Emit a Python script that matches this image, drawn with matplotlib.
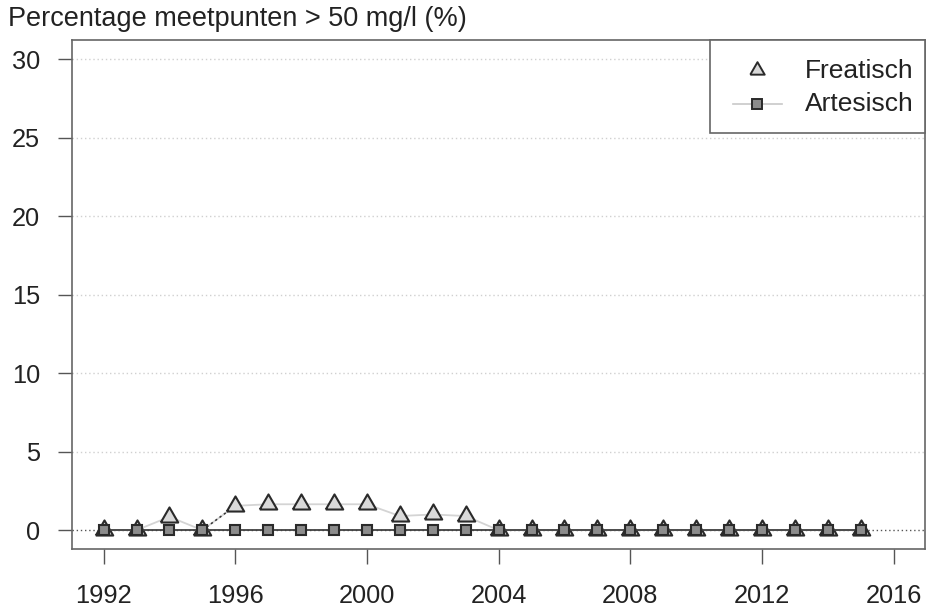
# coding: utf-8

import matplotlib
matplotlib.use('Agg')
import matplotlib.pyplot as plt
from matplotlib.patches import Rectangle
from matplotlib.lines import Line2D
import numpy as np

plt.rcParams['font.family'] = ['Liberation Sans', 'DejaVu Sans']

# ---- data
years = list(range(1992, 2016))
freatisch = [0, 0, 0.85, 0, 1.55, 1.65, 1.65, 1.65, 1.65, 0.9, 1.0, 0.9,
             0, 0, 0, 0, 0, 0, 0, 0, 0, 0, 0, 0]
artesisch = [0] * 24
x_ticks = [1992, 1996, 2000, 2004, 2008, 2012, 2016]
y_ticks = [0, 5, 10, 15, 20, 25, 30]

ylabel = "Percentage meetpunten > 50 mg/l (%)"
labels = ['Freatisch', 'Artesisch']

# equilateral triangle, centred on its centroid (like R pch 24)
TRI = [(-1, -0.577), (1, -0.577), (0, 1.155), (-1, -0.577)]


def main():
    fig = plt.figure(figsize=(9.27, 6.09), dpi=100)
    ax = fig.add_axes([0.0777, 0.0985, 0.9203, 0.8355])

    x = np.array(years)
    yf = np.array(freatisch)
    ya = np.array(artesisch)

    # grid
    for t in y_ticks[1:]:
        ax.axhline(t, color='#d0d0d0', lw=1, ls=(0, (1, 2)), zorder=0)
    ax.axhline(0, color='#555555', lw=1, ls=(0, (1, 2)), zorder=1)

    # freatisch line (light) and the dotted jump 1995 -> 1996
    ax.plot(x, yf, color='#d4d4d4', lw=1.3, zorder=2)
    i = years.index(1995)
    ax.plot(x[i:i + 2], yf[i:i + 2], color='#333333', lw=1.1, ls=(0, (1.5, 2)), zorder=2)

    # markers: triangles below, squares on top
    ax.plot(x, yf, ls='none', marker=TRI, ms=14.5,
            mfc='#d9d9d9', mec='#2a2a2a', mew=1.5, zorder=3)
    ax.plot(x, ya, color='#404040', lw=1.3, marker='s', ms=7.5,
            mfc='#8c8c8c', mec='#2a2a2a', mew=1.5, zorder=4)

    ax.set_xlim(1991.04, 2016.96)
    ax.set_ylim(-1.2, 31.2)
    ax.set_xticks(x_ticks)
    ax.set_yticks(y_ticks)
    ax.tick_params(axis='both', direction='out', width=1,
                   color='#555555', labelsize=18.3, labelcolor='#222222')
    ax.tick_params(axis='x', length=11, pad=14)
    ax.tick_params(axis='y', length=10, pad=13)
    for s in ax.spines.values():
        s.set_color('#666666')
        s.set_linewidth(1.2)

    fig.text(0.009, 0.969, ylabel, fontsize=19.5, color='#222222', va='center', ha='left')

    # legend, drawn by hand in the R style
    fig.patches.append(Rectangle((0.766, 0.7816), 0.232, 0.1524, transform=fig.transFigure,
                                 fill=True, facecolor='white', edgecolor='#666666',
                                 lw=1.2, zorder=5))
    fig.lines.append(Line2D([0.8166], [0.8850], transform=fig.transFigure, ls='none',
                            marker=TRI, ms=12, mfc='#d9d9d9', mec='#2a2a2a', mew=1.4,
                            zorder=6))
    fig.lines.append(Line2D([0.791, 0.8436], [0.829, 0.829], transform=fig.transFigure,
                            color='#c8c8c8', lw=1.2, zorder=6))
    fig.lines.append(Line2D([0.8166], [0.829], transform=fig.transFigure, ls='none',
                            marker='s', ms=7.5, mfc='#8c8c8c', mec='#2a2a2a', mew=1.4,
                            zorder=6))
    for lab, yy in zip(labels, [0.8834, 0.829]):
        fig.text(0.868, yy, lab, fontsize=19, color='#222222', va='center', ha='left',
                 zorder=7)

    fig.savefig('out.png', dpi=100)


if __name__ == '__main__':
    main()
